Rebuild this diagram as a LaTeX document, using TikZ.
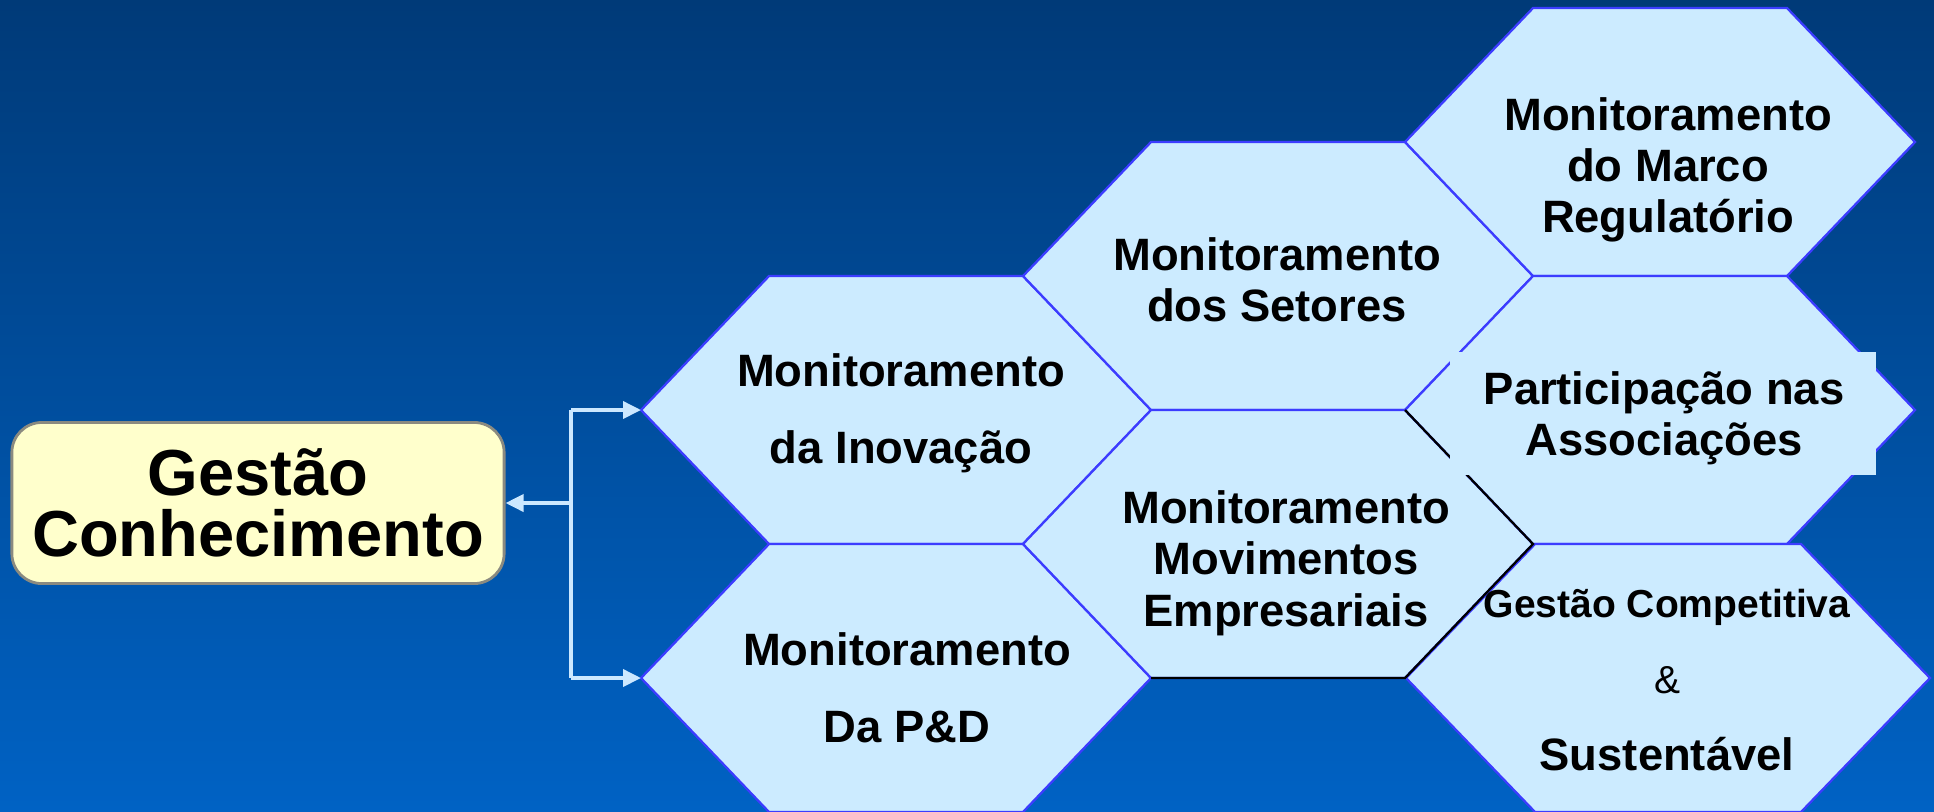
\documentclass[tikz,border=0pt]{standalone}
\usepackage{fontspec}
\setmainfont{Liberation Sans}
\usetikzlibrary{arrows.meta}

\definecolor{bgtop}{HTML}{003A78}
\definecolor{bgbot}{HTML}{0062C4}
\definecolor{hexfill}{HTML}{CCEBFF}
\definecolor{hexline}{HTML}{3C3CFF}
\definecolor{boxfill}{HTML}{FFFFCC}
\definecolor{boxline}{HTML}{8A8A80}
\definecolor{linkcol}{HTML}{CCE8FF}

% hexagon round a centre, in px: half width 255, half side 127, half height 134
\newcommand{\hexat}[2]{(#1-255,#2) -- (#1-127,#2-134) -- (#1+127,#2-134) -- (#1+255,#2) -- (#1+127,#2+134) -- (#1-127,#2+134) -- cycle}

\tikzset{
	hexcell/.style={fill=hexfill, draw=hexline, line width=0.65pt, line join=miter},
	hexblack/.style={draw=black, line width=0.65pt},
	link/.style={draw=linkcol, line width=1.05pt},
	linkarrow/.style={link, -{Triangle[length=1.8mm,width=1.7mm]}},
	lbl/.style={align=center, inner sep=0pt, font=\bfseries\fontsize{12.9}{14.6}\selectfont},
	lblwide/.style={lbl, font=\bfseries\fontsize{12.9}{21.8}\selectfont},
	gcbox/.style={fill=boxfill, draw=boxline, line width=0.8pt, rounded corners=0.3cm,
		minimum width=4.92cm, minimum height=1.61cm, align=center, inner sep=0pt,
		font=\bfseries\fontsize{18.5}{17.5}\selectfont}
}

\begin{document}
\begin{tikzpicture}[x=0.01cm, y=-0.01cm]
	\useasboundingbox (0,0) rectangle (1934,811);
	\shade[top color=bgtop, bottom color=bgbot] (0,0) rectangle (1934,811);

	% the cells
	\filldraw[hexcell] \hexat{896}{410};
	\filldraw[hexcell] \hexat{896}{678};
	\filldraw[hexcell] \hexat{1278}{276};
	\filldraw[hexcell] \hexat{1278}{544};
	\filldraw[hexcell] \hexat{1660}{142};
	\filldraw[hexcell] \hexat{1660}{410};
	% last one is a little wider
	\filldraw[hexcell] (1406,678) -- (1535,544) -- (1801,544) -- (1930,678) -- (1801,812) -- (1535,812) -- cycle;

	% right and lower edges of the middle cell are black
	\draw[hexblack] (1405,410) -- (1533,544) -- (1405,678) -- (1151,678);
	%\draw[hexblack] (1151,678) -- (1023,544);
	\fill[hexfill] (1450,352) rectangle (1876,475);

	% texts
	\node[lblwide] (ino)    at (901,413)  {Monitoramento\\da Inovação};
	\node[lblwide] (pd)     at (907,688)  {Monitoramento\\Da P\&D};
	\node[lbl]     (set)    at (1277,280) {Monitoramento\\dos Setores};
	\node[lbl]     (mov)    at (1286,563) {Monitoramento\\Movimentos\\Empresariais};
	\node[lbl]     (marco)  at (1668,170) {Monitoramento\\do Marco\\Regulatório};
	\node[lbl]     (assoc)  at (1664,418) {Participação nas\\Associações};
	\node[lblwide] (compet) at (1667,680) {{\fontsize{11.1}{21.8}\selectfont Gestão Competitiva}\\
		{\mdseries\fontsize{11.1}{21.8}\selectfont \&}\\Sustentável};

	\node[gcbox] (gc) at (258,503) {Gestão\\Conhecimento};

	% connectors
	\coordinate (inoL) at (641,410);
	\coordinate (pdL)  at (641,678);
	\coordinate (jtop) at (571,410);
	\coordinate (jn)   at (571,503);
	\coordinate (jbot) at (571,678);
	\draw[link] (jtop) -- (jbot);
	\draw[linkarrow] (jn) -- (gc.east);
	\draw[linkarrow] (jtop) -- (inoL);
	\draw[linkarrow] (jbot) -- (pdL);
\end{tikzpicture}
\end{document}
